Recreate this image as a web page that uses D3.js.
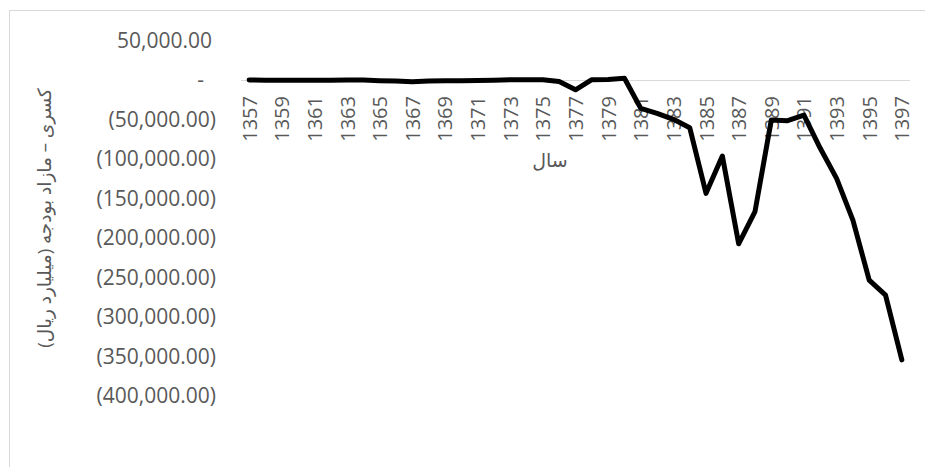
<!DOCTYPE html>
<html>
<head>
<meta charset="utf-8">
<script src="https://cdn.jsdelivr.net/npm/d3@7/dist/d3.min.js"></script>
<style>
  html, body { margin: 0; padding: 0; background: #fff; }
  svg { display: block; }
  text { font-family: "Open Sans", "DejaVu Sans", sans-serif; fill: #595959; }
</style>
</head>
<body>
<script>
// Budget balance (billion rials), years 1357–1397
const years = [1357, 1358, 1359, 1360, 1361, 1362, 1363, 1364, 1365, 1366,
               1367, 1368, 1369, 1370, 1371, 1372, 1373, 1374, 1375, 1376,
               1377, 1378, 1379, 1380, 1381, 1382, 1383, 1384, 1385, 1386,
               1387, 1388, 1389, 1390, 1391, 1392, 1393, 1394, 1395, 1396, 1397];
const balance = [-500, -800, -1000, -1000, -800, -1000, -700, -600, -1500, -2000,
                 -3000, -2000, -1500, -1500, -1200, -800, -300, -200, -300, -2500,
                 -13000, -200, 0, 1500, -36500, -42800, -50400, -61000, -144100, -96800,
                 -208000, -167300, -51300, -52100, -45000, -87100, -125100, -177900, -254000, -273000, -355000];
const yTicks = [50000, 0, -50000, -100000, -150000, -200000, -250000, -300000, -350000, -400000];
const xTickYears = years.filter((d, i) => i % 2 === 0);
const xTitle = "سال";
const yTitle = "کسری – مازاد بودجه (میلیارد ریال)";

const W = 925, H = 467;
const svg = d3.select("body").append("svg").attr("width", W).attr("height", H);

// chart frame
svg.append("rect")
  .attr("x", 9.5).attr("y", 10.5).attr("width", 1000).attr("height", 1000)
  .attr("fill", "#fff").attr("stroke", "#d9d9d9").attr("stroke-width", 1);

const x = d3.scalePoint().domain(years).range([241, 910]).padding(0.5);
const y = d3.scaleLinear().domain([-400000, 50000]).range([395.5, 40]);

// accounting-style number format
const fmtNum = d3.format(",.2f");
function fmt(v) {
  if (v === 0) return "-";
  return v < 0 ? "(" + fmtNum(-v) + ")" : fmtNum(v);
}

// horizontal axis line at zero
svg.append("line")
  .attr("x1", 241).attr("x2", 910)
  .attr("y1", Math.round(y(0)) + 0.5).attr("y2", Math.round(y(0)) + 0.5)
  .attr("stroke", "#d9d9d9").attr("stroke-width", 1);

// y tick labels
const yAxis = d3.axisLeft(y).tickValues(yTicks).tickFormat(fmt).tickSize(0).tickPadding(0);
const gy = svg.append("g").attr("transform", "translate(216,0)").call(yAxis);
gy.select(".domain").remove();
gy.selectAll("text")
  .attr("font-size", 21)
  .attr("fill", "#595959")
  .attr("font-family", "Open Sans, DejaVu Sans, sans-serif")
  .attr("dy", "0.35em")
  .attr("dx", d => d > 0 ? -4 : d === 0 ? -12 : 0);

// x tick labels (rotated)
const xAxis = d3.axisBottom(x).tickValues(xTickYears).tickSize(0).tickPadding(0);
const gx = svg.append("g").attr("transform", "translate(0,96)").call(xAxis);
gx.select(".domain").remove();
gx.selectAll("text")
  .attr("font-size", 20)
  .attr("fill", "#595959")
  .attr("font-family", "Open Sans, DejaVu Sans, sans-serif")
  .attr("text-anchor", "end")
  .attr("transform", "rotate(-90)")
  .attr("x", 0).attr("y", 0).attr("dy", "0.35em");

// series line
const line = d3.line().x((d, i) => x(years[i])).y(d => y(d));
svg.append("path")
  .datum(balance)
  .attr("d", line)
  .attr("fill", "none")
  .attr("stroke", "#000")
  .attr("stroke-width", 5)
  .attr("stroke-linejoin", "round")
  .attr("stroke-linecap", "round");

// axis titles
svg.append("text")
  .attr("x", 550).attr("y", 160)
  .attr("text-anchor", "middle").attr("dy", "0.35em")
  .attr("font-size", 19)
  .text(xTitle);

svg.append("text")
  .attr("transform", "translate(45,218) rotate(-90)")
  .attr("text-anchor", "middle").attr("dy", "0.35em")
  .attr("font-size", 18.5)
  .text(yTitle);
</script>
</body>
</html>
